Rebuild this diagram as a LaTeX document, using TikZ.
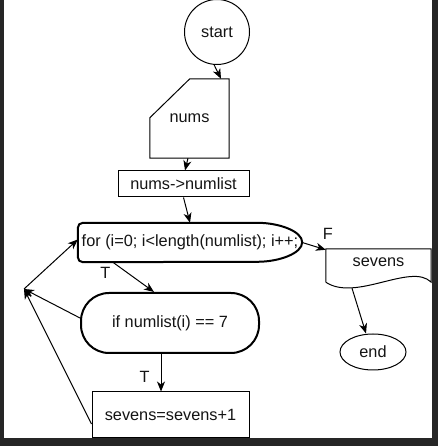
\documentclass[tikz,border=0pt]{standalone}
\usepackage{fontspec}
\setmainfont{Liberation Sans}
\usetikzlibrary{arrows.meta,shapes.geometric,shapes.misc,calc}
\definecolor{frame}{RGB}{38,38,38}
\definecolor{ink}{RGB}{20,20,20}
\tikzset{
  >={Stealth[length=10pt,width=8pt,inset=3pt]},
  txt/.style={font=\fontsize{16.3}{18}\selectfont,text=ink},
  term/.style={txt,draw=black,line width=1pt,inner sep=0pt},
  proc/.style={txt,rectangle,draw=black,line width=1pt,inner sep=0pt},
  blank/.style={txt,rectangle,inner sep=0pt},
  outline/.style={line width=1pt,draw=black},
  flow/.style={->,line width=1pt,draw=black},
  lbl/.style={txt,inner sep=0pt},
}
\begin{document}
\begin{tikzpicture}[x=1pt,y=1pt]
  % dark frame round the sheet
  \fill[frame] (0,0) rectangle (438,446);
  \fill[white] (4,8) rectangle (432,446);
  \useasboundingbox (0,0) rectangle (438,446);

  \node[term,circle,minimum size=65pt] (start) at (217,414) {start};
  \node[blank,minimum width=79pt,minimum height=79pt] (nums) at (189.5,327.5) {nums};
  \draw[outline] ([yshift=-39pt]nums.north west) -- ([xshift=40pt]nums.north west) -- (nums.north east)
    -- (nums.south east) -- (nums.south west) -- cycle;
  \node[proc,minimum width=131pt,minimum height=26pt] (cast) at (183.5,262) {nums->numlist};

  \node[blank,minimum width=224pt,minimum height=39pt] (loop) at (190,203.5) {for (i=0; i<length(numlist); i++;};
  \draw[outline,line width=2pt,rounded corners=5pt] ([xshift=-50pt]loop.north east)
    arc[start angle=90,end angle=-90,x radius=50pt,y radius=19.5pt]
    -- (loop.south west) -- (loop.north west) -- cycle;

  \node[proc,line width=2pt,rounded corners=28pt,minimum width=178pt,minimum height=60pt] (test) at (170,123) {if numlist(i) == 7};
  \node[proc,minimum width=157pt,minimum height=46pt] (count) at (170.5,31) {sevens=sevens+1};

  \node[blank,minimum width=105pt,minimum height=33pt,text depth=7pt] (out) at (378.5,180.5) {sevens};
  \draw[outline] (out.south west) -- (out.north west) -- (out.north east) -- (out.south east)
    .. controls +(-20pt,20pt) and +(30pt,-20pt) .. (out.south west);
  \node[term,ellipse,minimum width=66pt,minimum height=36pt] (stop) at (373,94) {end};

  \coordinate (back) at (24,157);

  \draw[flow] (start.265) -- ([xshift=31.5pt]nums.north);
  \draw[flow] ([xshift=-1.5pt]nums.south) -- ([xshift=1.5pt]cast.north);
  \draw[flow] (cast.south) -- (loop.north);
  \draw[flow] (loop.east) -- ([yshift=-1pt]out.north west)
    node[lbl,pos=1,above,xshift=2pt,yshift=10pt] {F};
  \draw[flow] ([xshift=35pt]loop.south west) -- ([xshift=-16pt]test.north)
    node[lbl,pos=0,below left,xshift=-2pt,yshift=-5pt] {T};
  \draw[flow] ([xshift=-9pt]test.south) -- ([xshift=-9.5pt]count.north)
    node[lbl,pos=0.6,left,xshift=-11pt] {T};
  \draw[flow] ([xshift=-26.5pt,yshift=-6pt]out.south) -- ([xshift=-7pt]stop.north);

  \draw[flow] ([yshift=5pt]test.west) -- (back);
  \draw[flow] ([yshift=-9pt]count.west) -- (back);
  \draw[flow] (back) -- ([yshift=3pt]loop.west);
\end{tikzpicture}
\end{document}
